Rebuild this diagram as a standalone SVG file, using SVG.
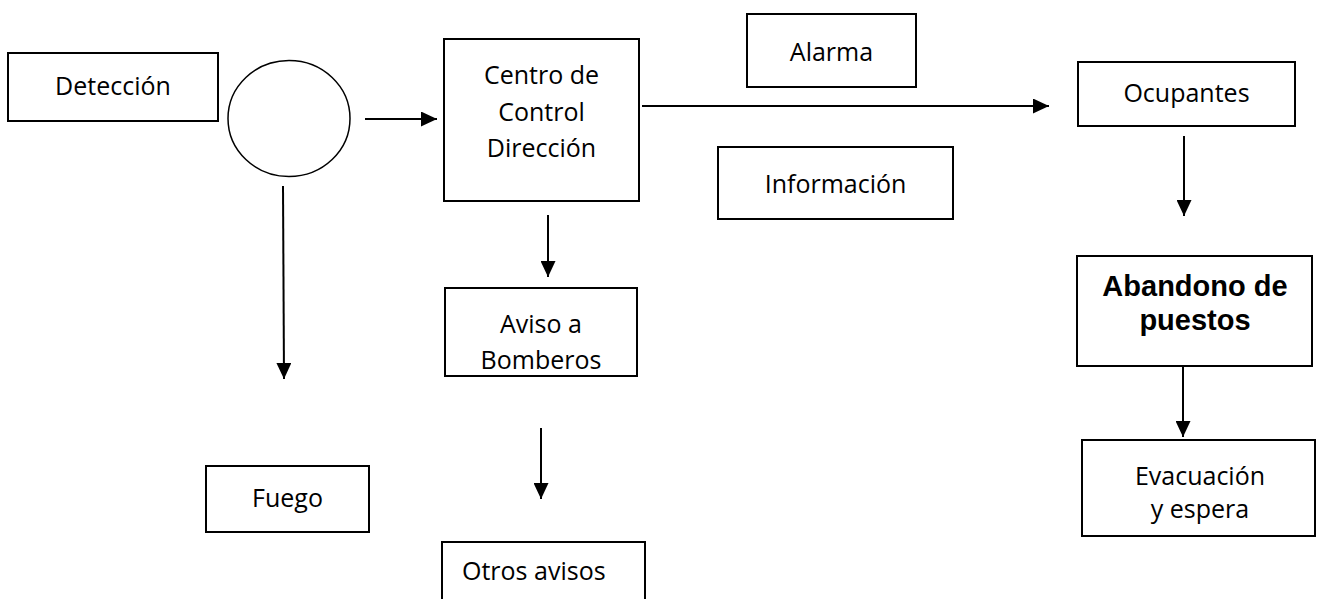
<svg xmlns="http://www.w3.org/2000/svg" width="1317" height="599" viewBox="0 0 1317 599">
  <style>
    .box { fill: #ffffff; stroke: #000000; stroke-width: 2; }
    .t { font-family: "Open Sans", "Liberation Sans", sans-serif; font-size: 25px; fill: #000000; text-anchor: middle; }
    .ts { font-family: "Open Sans", "Liberation Sans", sans-serif; font-size: 25px; fill: #000000; text-anchor: start; }
    .b { font-family: "Liberation Sans", Arial, sans-serif; font-size: 29px; font-weight: bold; fill: #000000; text-anchor: middle; }
    .c { fill: none; stroke: #000000; stroke-width: 2; marker-end: url(#arrow); }
  </style>
  <defs>
    <marker id="arrow" viewBox="0 0 16 15" refX="16" refY="7.5" markerWidth="16" markerHeight="15" markerUnits="userSpaceOnUse" orient="auto">
      <path d="M0,0 L16,7.5 L0,15 z" fill="#000000"/>
    </marker>
  </defs>
  <rect width="1317" height="599" fill="#ffffff"/>

  <g id="connectors">
    <path class="c" d="M365,119 L437,119"/>
    <path class="c" d="M283,186 L284,379"/>
    <path class="c" d="M642,106 L1049,106"/>
    <path class="c" d="M548,215 L548,277"/>
    <path class="c" d="M541,428 L541,499"/>
    <path class="c" d="M1184,136 L1184,216"/>
    <path class="c" d="M1183,366 L1183,437"/>
  </g>

  <g id="deteccion">
    <rect class="box" x="8" y="53" width="210" height="68"/>
    <text class="t" x="113" y="95">Detección</text>
  </g>
  <g id="circulo">
    <ellipse fill="#ffffff" stroke="#000000" stroke-width="1.5" cx="289" cy="118.5" rx="61" ry="58"/>
  </g>
  <g id="centro">
    <rect class="box" x="444" y="39" width="195" height="162"/>
    <text class="t" x="541.5" y="84">Centro de</text>
    <text class="t" x="541.5" y="121">Control</text>
    <text class="t" x="541.5" y="157">Dirección</text>
  </g>
  <g id="alarma">
    <rect class="box" x="747" y="14" width="169" height="73"/>
    <text class="t" x="831.5" y="61">Alarma</text>
  </g>
  <g id="informacion">
    <rect class="box" x="718" y="147" width="235" height="72"/>
    <text class="t" x="835.5" y="193">Información</text>
  </g>
  <g id="ocupantes">
    <rect class="box" x="1078" y="62" width="217" height="64" stroke-width="2.5"/>
    <text class="t" x="1186.5" y="102">Ocupantes</text>
  </g>
  <g id="abandono">
    <rect class="box" x="1077" y="256" width="235" height="110" stroke-width="2.5"/>
    <text class="b" x="1195" y="296">Abandono de</text>
    <text class="b" x="1195" y="330">puestos</text>
  </g>
  <g id="evacuacion">
    <rect class="box" x="1082" y="440" width="233" height="96"/>
    <text class="t" x="1200" y="485">Evacuación</text>
    <text class="t" x="1200" y="518">y espera</text>
  </g>
  <g id="aviso">
    <rect class="box" x="445" y="288" width="192" height="88"/>
    <text class="t" x="541" y="333">Aviso a</text>
    <text class="t" x="541" y="369">Bomberos</text>
  </g>
  <g id="fuego">
    <rect class="box" x="206" y="466" width="163" height="66"/>
    <text class="t" x="287.5" y="507">Fuego</text>
  </g>
  <g id="otros">
    <rect class="box" x="442" y="542" width="203" height="70"/>
    <text class="ts" x="462" y="580">Otros avisos</text>
  </g>
</svg>
